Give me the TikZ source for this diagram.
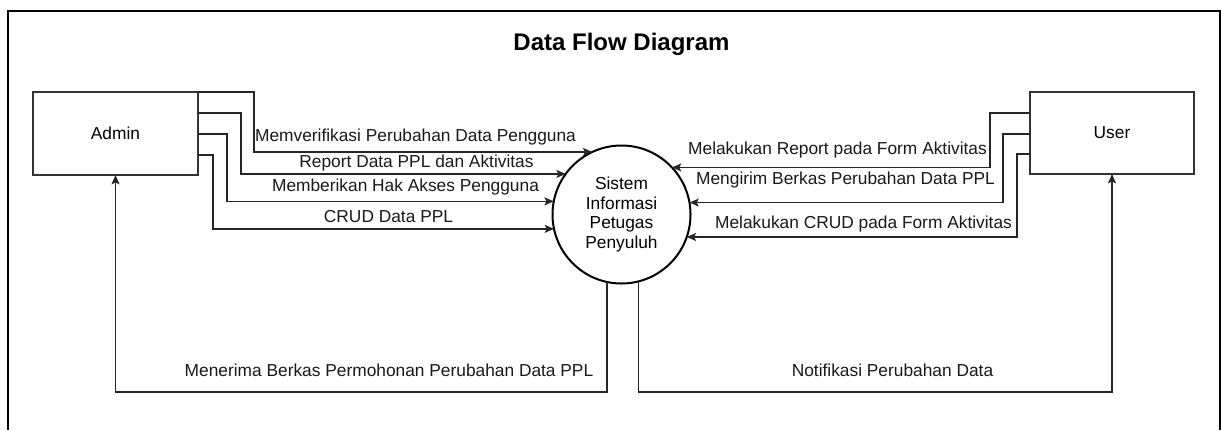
\documentclass[tikz,border=0pt]{standalone}
\usepackage{fontspec}
\setmainfont{Liberation Sans}
\usetikzlibrary{arrows.meta}
\begin{document}
\begin{tikzpicture}[x=0.75pt,y=-0.75pt,
  flow/.style={draw=black!85, line width=1pt, -{Stealth[length=7pt,width=6pt,inset=1.5pt]}},
  entity/.style={draw=black!80, line width=2.2pt, fill=white, inner sep=0pt, outer sep=0pt, font=\fontsize{13}{15}\selectfont},
  process/.style={circle, draw=black, line width=1.5pt, fill=white, inner sep=0pt, outer sep=0pt, minimum size=103.5pt, align=center, font=\fontsize{13}{14.6}\selectfont},
  lbl/.style={inner sep=0pt, font=\fontsize{13}{15}\selectfont, text=black!90},
  ttl/.style={inner sep=0pt, font=\fontsize{18}{21}\selectfont\bfseries},
  frame/.style={draw=black, line width=1.1pt}]
\useasboundingbox (0,0) rectangle (1221,430);
\draw[frame] (8,430) -- (8,11) -- (1220,11) -- (1220,430);
\node[ttl] (title) at (621.5,44) {Data Flow Diagram};
\node[entity, minimum width=123.75pt, minimum height=62.25pt] (admin) at (115.5,133.5) {Admin};
\node[entity, minimum width=123pt, minimum height=61.5pt] (user) at (1112,133) {User};
\node[process] (sys) at (621.5,214.5) {Sistem\\Informasi\\Petugas\\Penyuluh};
% admin -> system
\draw[flow] (admin.north east) -- (254,92) |- (sys.115.1);
\draw[flow] (admin.east |- 0,113) -- (241,113) |- (sys.144.1);
\draw[flow] (admin.east |- 0,134) -- (227,134) |- (sys.169.6);
\draw[flow] (admin.east |- 0,155) -- (213,155) |- (sys.192.1);
% user -> system
\draw[flow] (user.west |- 0,113) -- (990,113) |- (sys.43.5);
\draw[flow] (user.west |- 0,134) -- (1003,134) |- (sys.10.4);
\draw[flow] (user.west |- 0,154) -- (1017,154) |- (sys.-19);
% system -> admin / user
\draw[flow] (sys.258.7) |- (admin.south |- 0,392) -- (admin.south);
\draw[flow] (sys.284.7) |- (user.south |- 0,392) -- (user.south);
% labels
\node[lbl] (l1) at (415.5,137) {Memverifikasi Perubahan Data Pengguna};
\node[lbl] (l2) at (416.5,163) {Report Data PPL dan Aktivitas};
\node[lbl] (l3) at (405.5,187) {Memberikan Hak Akses Pengguna};
\node[lbl] (l4) at (388.5,217) {CRUD Data PPL};
\node[lbl] (r1) at (837.5,150) {Melakukan Report pada Form Aktivitas};
\node[lbl] (r2) at (845.5,180) {Mengirim Berkas Perubahan Data PPL};
\node[lbl] (r3) at (863.5,224) {Melakukan CRUD pada Form Aktivitas};
\node[lbl] (b1) at (389,370) {Menerima Berkas Permohonan Perubahan Data PPL};
\node[lbl] (b2) at (892.5,370) {Notifikasi Perubahan Data};
\end{tikzpicture}
\end{document}
